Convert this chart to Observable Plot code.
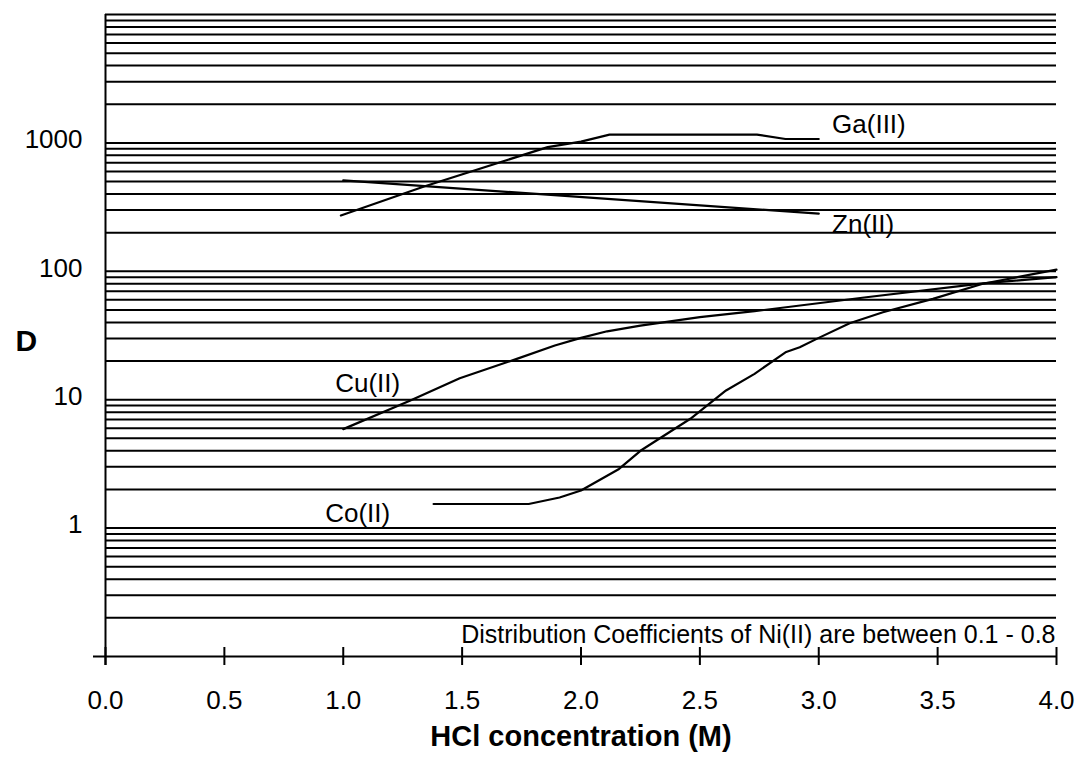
<!DOCTYPE html>
<html><head><meta charset="utf-8">
<script src="https://cdn.jsdelivr.net/npm/d3@7"></script>
<script src="https://cdn.jsdelivr.net/npm/@observablehq/plot@0.6"></script>
<style>
body{margin:0;background:#fff}
svg{font-family:"Liberation Sans",Arial,sans-serif}
</style>
</head><body><div id="chart"></div>
<script>
// Data (HCl concentration in M, distribution coefficient D)
const gaX = [0.99, 1.34, 1.86, 2.0, 2.12, 2.74, 2.86, 3.0];
const gaD = [272, 458, 927, 1024, 1160, 1160, 1072, 1072];
const znX = [1.0, 3.0];
const znD = [511, 281];
const cuX = [1.0, 1.28, 1.49, 1.73, 1.89, 2.0, 2.11, 2.25, 2.5, 2.73, 3.2, 3.69, 4.0];
const cuD = [5.9, 9.8, 14.7, 20.8, 26.4, 30.3, 34.1, 37.8, 43.9, 48.9, 62.8, 80.4, 90];
const coX = [1.38, 1.78, 1.91, 2.0, 2.16, 2.25, 2.46, 2.61, 2.73, 2.86, 2.92, 3.0, 3.13, 3.27, 3.48, 3.69, 4.0];
const coD = [1.54, 1.54, 1.73, 1.96, 2.89, 4.0, 7.1, 11.8, 15.9, 23.4, 25.6, 30.3, 39.4, 48, 61, 80, 103];

const seriesLabels = ["Ga(III)", "Zn(II)", "Cu(II)", "Co(II)"];
const labelX = [3.056, 3.056, 0.966, 0.924];
const labelD = [1393, 232, 13.4, 1.29];

const xTicks = [0, 0.5, 1.0, 1.5, 2.0, 2.5, 3.0, 3.5, 4.0];
const yTicks = [1, 10, 100, 1000];
const gridValues = [
  0.2, 0.3, 0.4, 0.5, 0.6, 0.7, 0.8, 0.9,
  1, 2, 3, 4, 5, 6, 7, 8, 9,
  10, 20, 30, 40, 50, 60, 70, 80, 90,
  100, 200, 300, 400, 500, 600, 700, 800, 900,
  1000, 2000, 3000, 4000, 5000, 6000, 7000, 8000, 9000, 10000
];
const xTitle = "HCl concentration (M)";
const yTitle = "D";
const note = "Distribution Coefficients of Ni(II) are between 0.1 - 0.8";

const toRows = (xs, ds) => xs.map((x, i) => ({x, D: ds[i]}));
const ga = toRows(gaX, gaD), zn = toRows(znX, znD), cu = toRows(cuX, cuD), co = toRows(coX, coD);
const labels = seriesLabels.map((t, i) => ({t, x: labelX[i], D: labelD[i]}));

const chart = Plot.plot({
  width: 1082,
  height: 779,
  marginLeft: 105,
  marginRight: 26,
  marginTop: 14,
  marginBottom: 123,
  style: {background: "white", color: "black", fontFamily: "Liberation Sans, Arial, sans-serif", fontSize: "26px"},
  x: {domain: [0, 4]},
  y: {type: "log", domain: [0.1, 10000]},
  marks: [
    Plot.ruleY(gridValues, {stroke: "black", strokeWidth: 2}),
    Plot.ruleX([0], {stroke: "black", strokeWidth: 2, insetBottom: -9}),
    Plot.ruleY([0.1], {stroke: "black", strokeWidth: 2, insetLeft: -12}),
    Plot.axisX(xTicks, {tickSize: 18, dy: -9, text: null, strokeWidth: 2, label: null}),
    Plot.axisX(xTicks, {tickSize: 0, tickPadding: 34, tickFormat: d3.format(".1f"), fontSize: 26, label: null}),
    Plot.axisY(yTicks, {tickSize: 0, tickPadding: 23, tickFormat: d => String(d), fontSize: 26, dy: -3, label: null}),
    Plot.line(ga, {x: "x", y: "D", stroke: "black", strokeWidth: 2.2}),
    Plot.line(zn, {x: "x", y: "D", stroke: "black", strokeWidth: 2.2}),
    Plot.line(cu, {x: "x", y: "D", stroke: "black", strokeWidth: 2.2}),
    Plot.line(co, {x: "x", y: "D", stroke: "black", strokeWidth: 2.2}),
    Plot.text(labels, {x: "x", y: "D", text: "t", textAnchor: "start", fontSize: 26, fill: "black"}),
    Plot.text([note], {text: d => d, frameAnchor: "bottom-right", textAnchor: "end", dy: -14, dx: -1, fontSize: 25, fill: "black"}),
    Plot.text([xTitle], {text: d => d, frameAnchor: "bottom", dy: 89, fontSize: 29, fontWeight: "bold", fill: "black"}),
    Plot.text([yTitle], {text: d => d, frameAnchor: "left", dx: -90, dy: 6, fontSize: 30, fontWeight: "bold", fill: "black"})
  ]
});
document.getElementById("chart").appendChild(chart);
</script>
</body></html>
